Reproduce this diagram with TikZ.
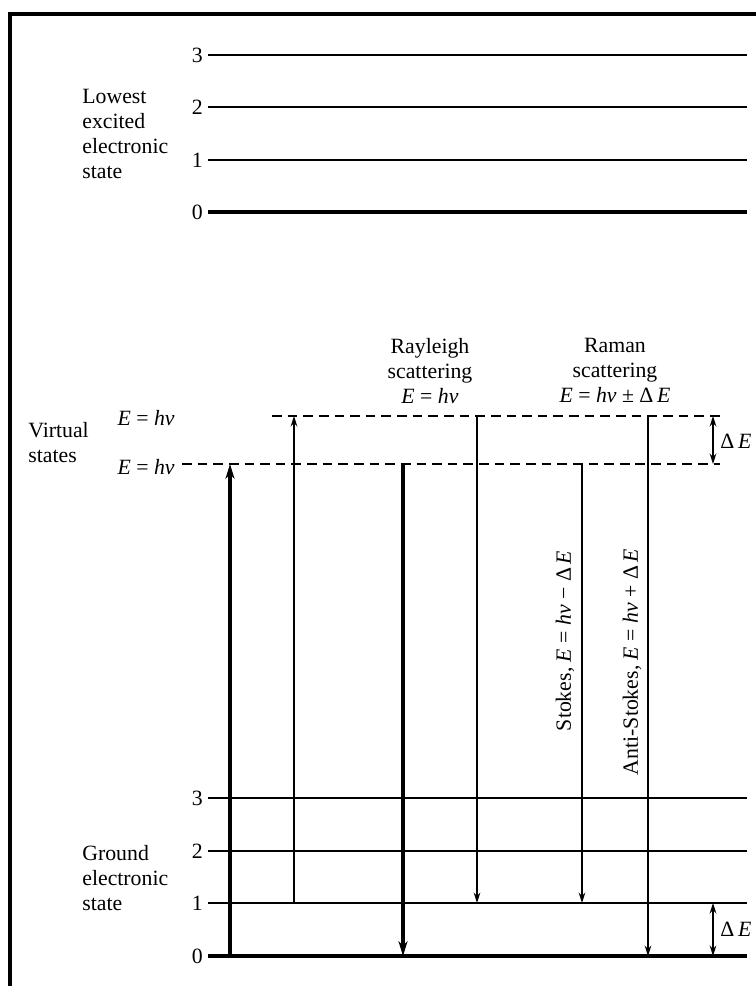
\documentclass[tikz,border=0pt]{standalone}
\usepackage{fontspec}
\setmainfont{Liberation Serif}
\usetikzlibrary{arrows.meta,positioning}
\definecolor{ink}{HTML}{000000}
\newcommand{\ehv}{\textit{E} = \textit{hν}}
\newcommand{\dE}{Δ\,\textit{E}}

\begin{document}
\begin{tikzpicture}[x=0.02cm,y=-0.02cm,
    lbl/.style={font=\fontsize{12.4}{14.2}\selectfont, text=ink, inner sep=0pt},
    level/.style={line width=1.1pt, draw=ink},
    zero/.style={line width=1.8pt, draw=ink},
    virt/.style={line width=0.9pt, draw=ink, dash pattern=on 5.5pt off 3.4pt},
    thinarr/.style={line width=0.8pt, draw=ink, -{Stealth[length=6pt,width=3.8pt]}},
    thickarr/.style={line width=2pt, draw=ink, -{Stealth[length=8.5pt,width=5.2pt]}},
    gaparr/.style={line width=0.9pt, draw=ink,
      {Stealth[length=6pt,width=3.8pt]}-{Stealth[length=6pt,width=3.8pt]}}]
  \useasboundingbox (0,0) rectangle (756,986);
  \draw[line width=2.3pt, ink] (10,986) -- (10,14) -- (756,14);

  % vibrational levels
  \foreach \n/\y in {3/55,2/107,1/160,0/212}
    {\node[lbl, anchor=east] (up\n) at (203,\y) {\n};}
  \foreach \n/\y in {3/798,2/851,1/903,0/956}
    {\node[lbl, anchor=east] (gr\n) at (203,\y) {\n};}
  \foreach \y in {55,107,160,798,851,903}
    {\draw[level] (208,\y) -- (747,\y);}
  \foreach \y in {212,956}
    {\draw[zero] (208,\y) -- (747,\y);}

  % virtual states
  \draw[virt] (272,416) -- (720,416);
  \draw[virt] (182,464) -- (720,464);
  \node[lbl, anchor=east] (vhi) at (175,418) {\ehv};
  \node[lbl, anchor=east] (vlo) at (175,467) {\ehv};

  \node[lbl, anchor=north west, align=left] (excited) at (82,89)
    {Lowest\\excited\\electronic\\state};
  \node[lbl, anchor=north west, align=left] (virtual) at (28,422)
    {Virtual\\states};
  \node[lbl, anchor=north west, align=left] (groundlbl) at (82,845)
    {Ground\\electronic\\state};
  \node[lbl, anchor=north, align=center] (rayleigh) at (430,338)
    {Rayleigh\\scattering\\\ehv};
  \node[lbl, anchor=north, align=center] (raman) at (615,338)
    {Raman\\scattering\\\ehv{} ± \dE};

  % transitions
  \foreach \arr/\x/\ya/\yb in {exA/230/956/464, exB/294/903/416,
      ray/403/464/956, rayB/477/416/903, stokes/582/464/903,
      anti/648/416/956, gapV/713/464/416, gapG/713/956/903}
    {\coordinate (\arr-a) at (\x,\ya); \coordinate (\arr-b) at (\x,\yb);}
  \draw[thickarr] (exA-a) -- (exA-b);
  \draw[thinarr] (exB-a) -- (exB-b);
  \draw[thickarr] (ray-a) -- (ray-b);
  \draw[thinarr] (rayB-a) -- (rayB-b);
  \draw[thinarr] (stokes-a) -- (stokes-b);
  \draw[thinarr] (anti-a) -- (anti-b);
  \draw[gaparr] (gapV-a) -- (gapV-b);
  \draw[gaparr] (gapG-a) -- (gapG-b);

  \node[lbl, anchor=west] (dEv) at (720,441) {\dE};
  \node[lbl, anchor=west] (dEg) at (720,929) {\dE};
  \node[lbl, rotate=90] (stokeslbl) at (565,641) {Stokes, \ehv{} − \dE};
  \node[lbl, rotate=90] (antilbl) at (632,662) {Anti-Stokes, \ehv{} + \dE};
\end{tikzpicture}
\end{document}
